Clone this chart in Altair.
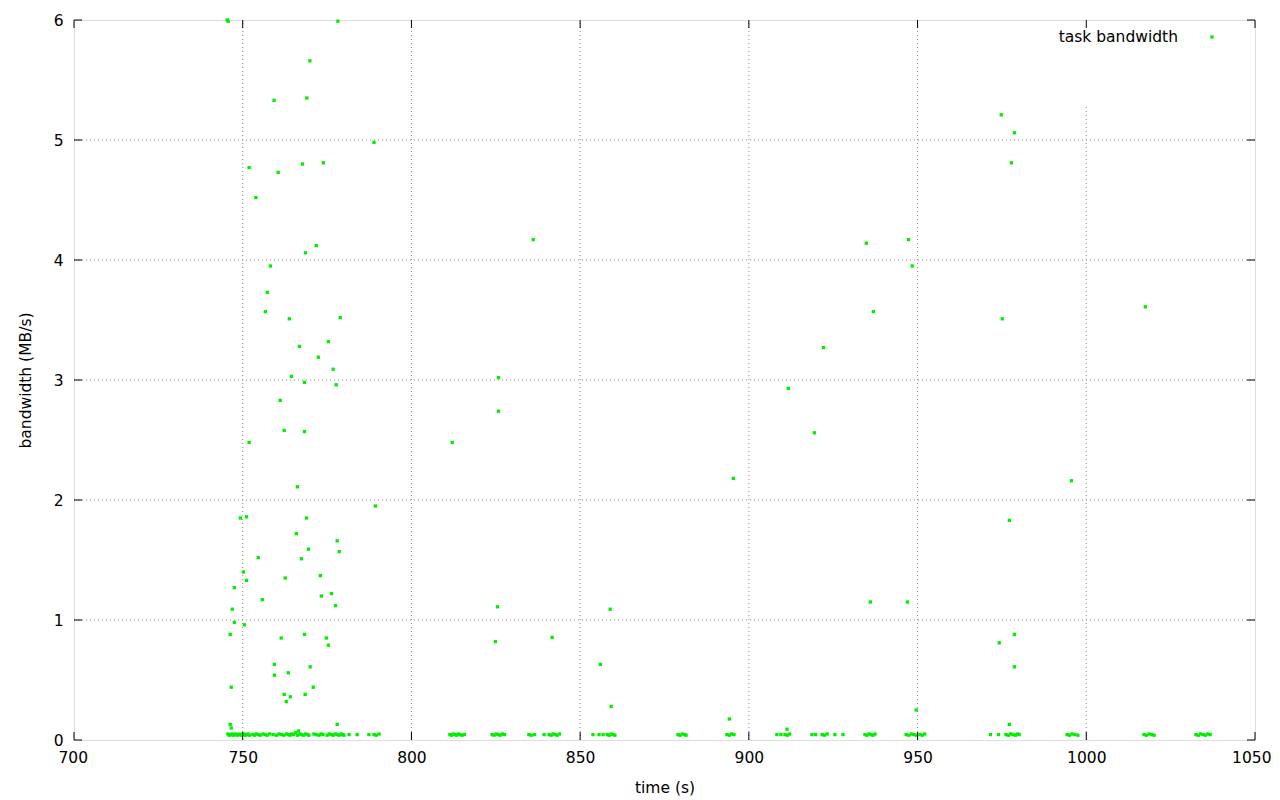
import altair as alt
import pandas as pd

# ---- data ----
# scattered points (time in s, bandwidth in MB/s)
scatter_time = [
    745.4, 745.7, 778.2, 769.9, 759.3, 769.0, 788.9, 751.9, 760.5, 767.7,
    773.9, 753.9, 771.8, 768.6, 758.2, 757.3, 756.7, 763.8, 778.9, 766.8,
    775.4, 772.4, 776.8, 764.4, 768.3, 777.7, 761.1, 762.3, 768.3, 751.9,
    766.2, 789.3, 749.3, 751.1, 768.9, 765.9, 778.0, 769.5, 778.6, 754.6,
    767.4, 750.2, 751.1, 762.6, 773.0, 747.5, 776.3, 773.3, 755.8, 777.5,
    746.9, 747.5, 750.5, 746.3, 768.3, 761.4, 774.8, 775.4, 759.4, 770.0,
    763.5, 759.4, 746.6, 770.9, 762.3, 768.5, 764.1, 762.9, 746.3, 746.6,
    778.0, 766.5,
    836.1, 825.8, 825.8, 812.1, 825.5, 858.9, 824.9, 841.7, 856.0, 859.2,
    934.8, 947.3, 948.4, 936.9, 922.1, 911.7, 919.4, 895.4, 936.0, 947.0,
    949.6, 894.2, 911.3,
    974.8, 978.7, 977.8, 975.1, 1017.5, 995.6, 977.2, 978.7, 974.2, 978.7,
    977.2,
]
scatter_bw = [
    6.00, 5.99, 5.99, 5.66, 5.33, 5.35, 4.98, 4.77, 4.73, 4.80,
    4.81, 4.52, 4.12, 4.06, 3.95, 3.73, 3.57, 3.51, 3.52, 3.28,
    3.32, 3.19, 3.09, 3.03, 2.98, 2.96, 2.83, 2.58, 2.57, 2.48,
    2.11, 1.95, 1.85, 1.86, 1.85, 1.72, 1.66, 1.59, 1.57, 1.52,
    1.51, 1.40, 1.33, 1.35, 1.37, 1.27, 1.22, 1.20, 1.17, 1.12,
    1.09, 0.98, 0.96, 0.88, 0.88, 0.85, 0.85, 0.79, 0.63, 0.61,
    0.56, 0.54, 0.44, 0.44, 0.38, 0.38, 0.36, 0.32, 0.13, 0.10,
    0.13, 0.075,
    4.17, 3.02, 2.74, 2.48, 1.11, 1.09, 0.82, 0.855, 0.63, 0.28,
    4.14, 4.17, 3.95, 3.57, 3.27, 2.93, 2.56, 2.18, 1.15, 1.15,
    0.25, 0.175, 0.09,
    5.21, 5.06, 4.81, 3.51, 3.61, 2.16, 1.83, 0.88, 0.81, 0.61,
    0.13,
]

# near-zero bandwidth tasks along the bottom
bottom_time = [
    745.6, 746.0, 746.4, 746.8, 747.2, 747.6, 748.0, 748.4, 748.8, 749.2,
    749.6, 750.0, 750.4, 750.8, 751.2, 751.6, 752.0, 753.0, 753.5, 754.0,
    754.6, 755.2, 756.0, 756.6, 757.2, 758.0, 759.0, 760.0, 760.8, 761.5,
    762.2, 763.0, 763.6, 764.0, 764.5, 765.0, 765.6, 766.2, 767.0, 767.3,
    768.0, 768.6, 769.2, 769.6, 771.1, 771.8, 772.6, 773.2, 773.8, 775.0,
    775.6, 776.2, 776.8, 777.4, 778.0, 778.6, 779.2, 779.6, 780.0, 781.5,
    783.9, 787.4, 788.9, 789.6, 790.4,
    811.4, 811.9, 812.4, 812.9, 813.4, 813.9, 814.4, 815.0, 815.7, 823.9,
    824.5, 825.1, 825.7, 826.3, 826.9, 827.6, 834.8, 835.5, 836.5, 839.3,
    840.8, 841.4, 842.0, 842.6, 843.2, 843.9, 853.8, 855.6, 856.8, 858.0,
    858.6, 859.2, 859.8, 860.3, 879.0, 879.6, 880.3, 881.0, 881.4,
    893.5, 894.2, 894.9, 895.6, 908.3, 909.5, 910.7, 911.4, 912.1, 918.7,
    919.8, 921.7, 922.4, 923.2, 925.5, 927.9, 934.4, 935.0, 935.6, 936.2,
    936.8, 937.4, 946.6, 947.4, 948.2, 948.9, 949.7, 950.7, 951.4, 952.1,
    971.6, 974.0, 976.2, 976.9, 977.6, 978.3, 979.0, 979.6, 980.1, 994.3,
    995.0, 995.8, 996.6, 997.5, 1017.1, 1017.8, 1018.6, 1019.4, 1020.1,
    1032.5, 1033.2, 1033.9, 1034.6, 1035.3, 1036.0, 1036.7,
]
bottom_bw = [
    0.05, 0.04, 0.045, 0.05, 0.04, 0.045, 0.05, 0.04, 0.045, 0.05,
    0.04, 0.045, 0.05, 0.04, 0.045, 0.05, 0.04, 0.045, 0.04, 0.05,
    0.045, 0.04, 0.05, 0.045, 0.04, 0.05, 0.045, 0.04, 0.05, 0.045,
    0.04, 0.05, 0.045, 0.04, 0.05, 0.045, 0.06, 0.04, 0.05, 0.045,
    0.04, 0.05, 0.045, 0.04, 0.05, 0.045, 0.04, 0.05, 0.045, 0.04,
    0.05, 0.045, 0.04, 0.05, 0.045, 0.04, 0.05, 0.045, 0.04, 0.045,
    0.045, 0.045, 0.045, 0.04, 0.05,
    0.045, 0.04, 0.05, 0.045, 0.04, 0.05, 0.045, 0.04, 0.045, 0.045,
    0.04, 0.05, 0.045, 0.04, 0.05, 0.045, 0.045, 0.04, 0.045, 0.045,
    0.045, 0.04, 0.05, 0.045, 0.04, 0.05, 0.045, 0.045, 0.045, 0.045,
    0.04, 0.05, 0.045, 0.04, 0.045, 0.04, 0.05, 0.045, 0.04,
    0.045, 0.04, 0.05, 0.045, 0.045, 0.045, 0.045, 0.04, 0.05, 0.045,
    0.045, 0.045, 0.04, 0.05, 0.045, 0.045, 0.045, 0.04, 0.05, 0.045,
    0.04, 0.05, 0.045, 0.04, 0.05, 0.045, 0.04, 0.045, 0.04, 0.05,
    0.045, 0.045, 0.045, 0.04, 0.05, 0.045, 0.04, 0.05, 0.045, 0.045,
    0.04, 0.05, 0.045, 0.04, 0.045, 0.04, 0.05, 0.045, 0.04,
    0.045, 0.04, 0.05, 0.045, 0.04, 0.05, 0.045,
]

x_ticks = [700, 750, 800, 850, 900, 950, 1000, 1050]
y_ticks = [0, 1, 2, 3, 4, 5, 6]
x_grid = [750, 800, 850, 900, 950, 1000]
x_grid_top = [6, 6, 6, 6, 6, 5.29]
y_grid = [1, 2, 3, 4, 5]

series_name = "task bandwidth"
GREEN = "#00ee00"
FONT = "DejaVu Sans"
FS = 15.5
W, H = 1181, 720

df = pd.DataFrame({
    "time": scatter_time + bottom_time,
    "bw": scatter_bw + bottom_bw,
})

xscale = alt.Scale(domain=[700, 1050], nice=False, zero=False)
yscale = alt.Scale(domain=[0, 6], nice=False)

xaxis = alt.Axis(values=x_ticks, format="d", ticks=False, tickSize=0, domain=False,
                 grid=False, labelFlush=True, labelFlushOffset=16, labelFont=FONT,
                 labelFontSize=FS, labelColor="black", labelPadding=10,
                 title="time (s)", titleFont=FONT, titleFontSize=FS,
                 titleFontWeight="normal", titleColor="black",
                 titleX=W / 2, titleY=47, titleBaseline="middle", titleAlign="center")
yaxis = alt.Axis(values=y_ticks, format="d", ticks=False, tickSize=0, domain=False,
                 grid=False, labelFlush=False, labelFont=FONT, labelFontSize=FS,
                 labelColor="black", labelPadding=11, title="bandwidth (MB/s)",
                 titleFont=FONT, titleFontSize=FS, titleFontWeight="normal",
                 titleColor="black", titleAngle=270, titleX=-49, titleY=H / 2,
                 titleAlign="center", titleBaseline="middle")

grid_style = dict(color="#8a8a8a", strokeWidth=1, strokeDash=[1, 3])

vgrid = alt.Chart(pd.DataFrame({"t": x_grid, "top": x_grid_top})).transform_calculate(
    lo="0"
).mark_rule(**grid_style).encode(
    x=alt.X("t:Q", scale=xscale),
    y=alt.Y("lo:Q", scale=yscale),
    y2="top:Q",
)

hgrid = alt.Chart(pd.DataFrame({"b": y_grid})).mark_rule(**grid_style).encode(
    y=alt.Y("b:Q", scale=yscale),
    x=alt.value(0), x2=alt.value(W),
)

points = alt.Chart(df).mark_square(size=11, color=GREEN, opacity=1).encode(
    x=alt.X("time:Q", scale=xscale, axis=xaxis),
    y=alt.Y("bw:Q", scale=yscale, axis=yaxis),
)

tick_style = dict(color="black", strokeWidth=1)
xt = pd.DataFrame({"t": x_ticks})
yt = pd.DataFrame({"b": y_ticks})
xticks_bottom = alt.Chart(xt).mark_rule(**tick_style).encode(
    x=alt.X("t:Q", scale=xscale), y=alt.value(H), y2=alt.value(H - 8))
xticks_top = alt.Chart(xt).mark_rule(**tick_style).encode(
    x=alt.X("t:Q", scale=xscale), y=alt.value(0), y2=alt.value(8))
yticks_left = alt.Chart(yt).mark_rule(**tick_style).encode(
    y=alt.Y("b:Q", scale=yscale), x=alt.value(0), x2=alt.value(8))
yticks_right = alt.Chart(yt).mark_rule(**tick_style).encode(
    y=alt.Y("b:Q", scale=yscale), x=alt.value(W), x2=alt.value(W - 8))

leg = pd.DataFrame({"name": [series_name]})
legend_text = alt.Chart(leg).mark_text(font=FONT, fontSize=FS, align="right",
                                       baseline="middle", color="black").encode(
    text="name:N", x=alt.value(1104), y=alt.value(17))
legend_mark = alt.Chart(leg).mark_square(size=11, color=GREEN, opacity=1).encode(
    x=alt.value(1138), y=alt.value(17))

chart = alt.layer(
    vgrid, hgrid, points, xticks_bottom, xticks_top, yticks_left, yticks_right,
    legend_text, legend_mark,
).properties(
    width=W, height=H,
    autosize=alt.AutoSizeParams(type="none"),
    padding={"left": 66, "top": 12, "right": 17, "bottom": 60},
).configure_view(stroke="black", strokeWidth=1).configure(background="white")

chart.save("out.html", embed_options={"renderer": "svg", "actions": False})
